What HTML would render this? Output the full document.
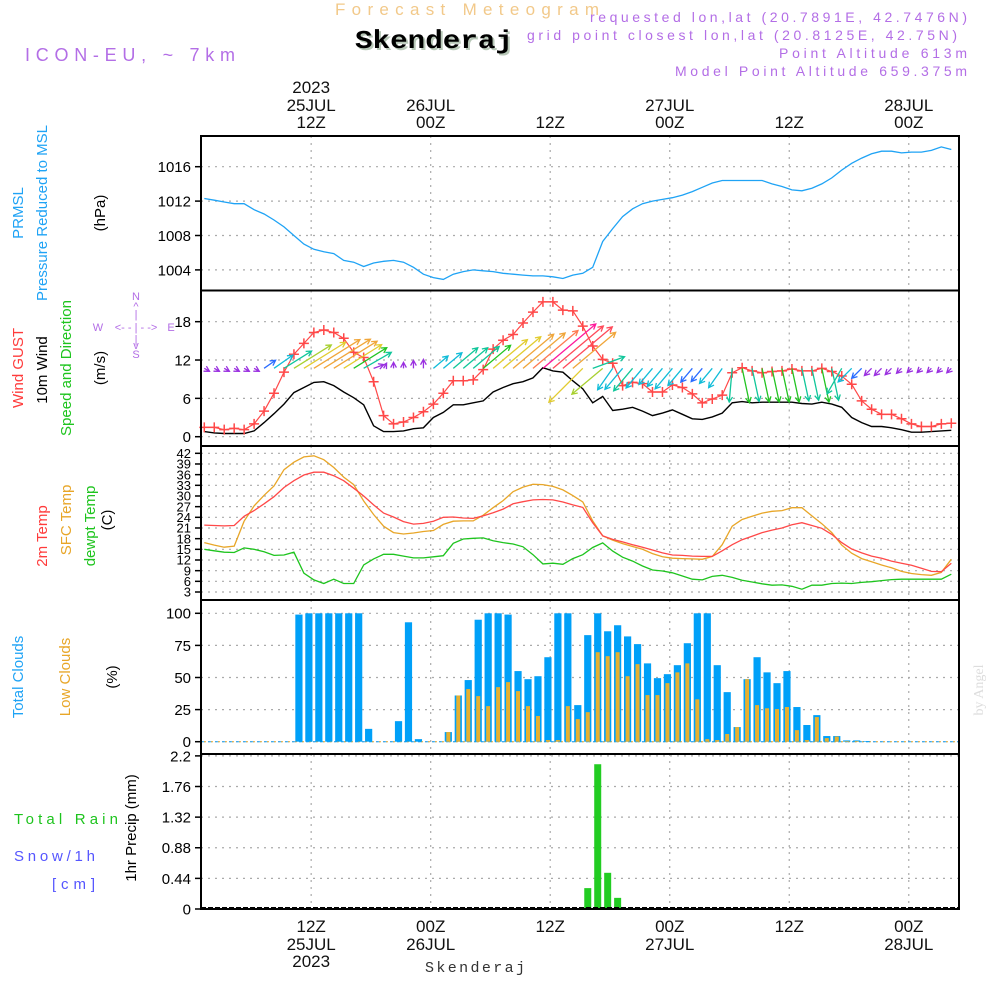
<!DOCTYPE html>
<html><head><meta charset="utf-8"><style>
html,body{margin:0;padding:0;background:#fff;}
svg{display:block;font-family:"Liberation Sans",sans-serif;}
</style></head><body>
<svg id="chart" width="1000" height="1000" viewBox="0 0 1000 1000" xmlns="http://www.w3.org/2000/svg">
<g>
<text x="335" y="15" font-size="17" fill="#f2c98a" textLength="264" lengthAdjust="spacing">Forecast Meteogram</text>
<text x="357" y="50" font-size="26" font-weight="bold" font-family="Liberation Mono, monospace" fill="#b8c8b8" textLength="158" lengthAdjust="spacingAndGlyphs">Skenderaj</text>
<text x="355" y="48" font-size="26" font-weight="bold" font-family="Liberation Mono, monospace" fill="#000" textLength="158" lengthAdjust="spacingAndGlyphs">Skenderaj</text>
<text x="25" y="61" font-size="18" fill="#b36ee6" textLength="210" lengthAdjust="spacing">ICON-EU, ~ 7km</text>
<text x="590" y="22" font-size="14" fill="#b36ee6" textLength="377" lengthAdjust="spacing">requested lon,lat (20.7891E, 42.7476N)</text>
<text x="527" y="40" font-size="14" fill="#b36ee6" textLength="430" lengthAdjust="spacing">grid point closest lon,lat (20.8125E, 42.75N)</text>
<text x="779" y="58" font-size="14" fill="#b36ee6" textLength="188" lengthAdjust="spacing">Point Altitude 613m</text>
<text x="675" y="76" font-size="14" fill="#b36ee6" textLength="292" lengthAdjust="spacing">Model Point Altitude 659.375m</text>
</g>
<g font-size="15">
<text transform="translate(23,213) rotate(-90)" text-anchor="middle" fill="#1fa3f5">PRMSL</text>
<text transform="translate(47,213) rotate(-90)" text-anchor="middle" fill="#1fa3f5">Pressure Reduced to MSL</text>
<text transform="translate(105,213) rotate(-90)" text-anchor="middle" fill="#000">(hPa)</text>
<text transform="translate(23,368) rotate(-90)" text-anchor="middle" fill="#ff3b3b">Wind GUST</text>
<text transform="translate(47,370) rotate(-90)" text-anchor="middle" fill="#000">10m Wind</text>
<text transform="translate(71,368) rotate(-90)" text-anchor="middle" fill="#1ec41e">Speed and Direction</text>
<text transform="translate(105,368) rotate(-90)" text-anchor="middle" fill="#000">(m/s)</text>
<g fill="#b36ee6" font-size="11" text-anchor="middle">
<text x="136" y="300">N</text><text x="136" y="310">^</text><text x="136" y="318">|</text>
<text x="98" y="331">W</text><text x="136" y="331">&lt;- - | - -&gt;</text><text x="171" y="331">E</text>
<text x="136" y="343">|</text><text x="136" y="349">v</text><text x="136" y="358">S</text>
</g>
<text transform="translate(47,536) rotate(-90)" text-anchor="middle" fill="#ff3b3b">2m Temp</text>
<text transform="translate(71,520) rotate(-90)" text-anchor="middle" fill="#e8a628">SFC Temp</text>
<text transform="translate(95,526) rotate(-90)" text-anchor="middle" fill="#1ec41e">dewpt Temp</text>
<text transform="translate(112,520) rotate(-90)" text-anchor="middle" fill="#000">(C)</text>
<text transform="translate(23,677) rotate(-90)" text-anchor="middle" fill="#1fa3f5">Total Clouds</text>
<text transform="translate(70,677) rotate(-90)" text-anchor="middle" fill="#e8a628">Low Clouds</text>
<text transform="translate(117,677) rotate(-90)" text-anchor="middle" fill="#000">(%)</text>
<text x="14" y="824" fill="#1ec41e" textLength="104" lengthAdjust="spacing">Total   Rain</text>
<text x="14" y="861" fill="#5555ff" textLength="81" lengthAdjust="spacing">Snow/1h</text>
<text x="52" y="889" fill="#5555ff" textLength="43" lengthAdjust="spacing">[cm]</text>
<text transform="translate(136,828) rotate(-90)" text-anchor="middle" fill="#000">1hr Precip (mm)</text>
</g>
<text transform="translate(983,690) rotate(-90)" text-anchor="middle" font-size="14" font-family="Liberation Serif, serif" fill="#dddddd">by Angel</text>
<text x="425" y="972" font-size="15" font-family="Liberation Mono, monospace" fill="#333" textLength="100" lengthAdjust="spacing">Skenderaj</text>
<g id="plot"></g>
</svg>
<script>
// ---- data (hourly, index 0 = ~01Z 25JUL) ----
const startHour = 1.27;
const tickHours = [12, 24, 36, 48, 60, 72];
const tickTime = ["12Z", "00Z", "12Z", "00Z", "12Z", "00Z"];
const tickDate = ["25JUL", "26JUL", "", "27JUL", "", "28JUL"];
const tickYear = ["2023", "", "", "", "", ""];

const pressure = [1012.3,1012.1,1011.9,1011.7,1011.7,1011.0,1010.5,1009.8,1009.0,1008.0,1007.0,1006.4,1006.1,1005.9,1005.1,1004.9,1004.4,1004.8,1005.0,1005.1,1004.9,1004.3,1003.5,1003.1,1002.9,1003.5,1003.8,1004.0,1003.9,1003.8,1003.6,1003.5,1003.4,1003.3,1003.3,1003.2,1003.0,1003.4,1003.6,1004.3,1007.3,1008.8,1010.2,1011.1,1011.7,1012.0,1012.2,1012.4,1012.7,1013.1,1013.6,1014.1,1014.4,1014.4,1014.4,1014.4,1014.4,1014.0,1013.7,1013.3,1013.2,1013.5,1014.0,1014.7,1015.6,1016.4,1017.0,1017.5,1017.8,1017.8,1017.6,1017.7,1017.7,1017.9,1018.3,1018.0];
const pressureTicks = [1004, 1008, 1012, 1016];

const gust = [1.45,1.45,1.1,1.3,1.1,2,4,6.8,10.1,12.9,14.6,16.3,16.7,16.3,15.4,13.2,12.4,8.6,3.3,2,2.3,3,3.9,5.1,6.8,8.75,8.75,8.9,10.5,13.7,15.1,16,17.8,19.5,21.1,21.1,19.8,19.7,17.3,14.2,12.1,11.5,8,8.5,8.3,7,7,8.1,7.7,6.7,5.3,5.9,6.5,10,10.8,10.3,10,10.2,10.3,10.6,10.3,10.3,10.7,10.2,9.5,8.2,5.6,4.3,3.5,3.5,2.8,2,1.6,1.6,2,2.1];
const wind = [0.8,0.6,0.5,0.5,0.5,0.9,2.2,3.6,5.1,6.9,7.7,8.5,8.6,8,7,6.1,5,1.7,0.8,0.8,0.9,1.25,1.4,3,3.8,5,5,5.3,5.6,7,7.7,8.3,8.6,9.2,10.8,10.3,10.1,8.75,7.5,5.3,6.3,4.1,4.3,4.6,4,3.3,3.7,4.2,3.5,2.8,2.7,3.1,3.7,5.3,5.5,5.3,5.4,5.4,5.4,5.4,5.2,5.1,5.4,5.1,4.6,3,2.2,1.6,1.6,1.4,1.1,0.7,0.7,0.8,0.9,1];
const windDir = [330,330,330,330,330,330,35,35,32,32,32,32,32,32,32,32,30,20,60,90,90,90,90,40,40,40,40,40,40,40,40,40,40,40,40,40,40,40,225,20,220,235,230,230,230,230,230,230,230,230,230,230,235,265,282,282,282,282,282,282,282,282,282,282,240,225,225,225,225,225,225,225,225,225,225,225];
const windTicks = [0, 6, 12, 18];

const temp2m = [21.8,21.7,21.6,21.7,24.3,25.9,27.8,29.8,32.4,34.3,35.9,36.7,36.7,35.7,34.3,32.2,30.0,27.5,25.2,24.1,22.8,22.1,22.3,22.9,24,24.1,23.8,23.7,24.4,25.3,26.3,27.8,28.4,28.9,29.0,28.9,28.3,27.5,26.8,22.5,18.8,17.8,17.1,16.3,15.6,14.8,14.0,13.4,13.3,13.1,13.0,13.0,14.6,16.3,17.7,18.7,19.7,20.4,21.0,21.9,22.5,21.7,20.9,19.2,16.9,15.1,14.0,13.1,12.5,11.7,11.1,10.5,9.7,8.8,8.7,11.1];
const tempSfc = [16.9,16.2,15.6,15.9,22.9,27.2,30.2,32.8,37.4,39.5,41,41.3,40.2,38.0,35.3,33.2,28.6,24.8,21.5,19.7,19.3,19.6,20.0,20.3,22.0,22.9,23.0,23.0,24.6,26.7,28.7,31.2,32.5,33.3,33.2,32.7,31.7,30.1,28.3,23.0,18.8,17.6,16.6,15.8,15.0,13.8,12.9,12.5,12.4,12.3,12.2,13.0,16.3,21.5,23.4,24.3,25.2,25.7,25.9,26.7,26.7,24.4,22.2,19.7,16.2,13.9,12.4,11.5,10.6,9.8,8.8,8.2,7.9,7.7,8.5,12.2];
const dewpt = [15.0,14.6,14.2,14.1,15.4,15.0,14.3,13.3,13.4,14.2,8.3,6.4,5.4,6.6,5.4,5.4,10.6,12.3,13.6,13.6,13.1,12.6,12.6,12.9,13.2,16.7,17.9,18.1,18.2,17.4,16.9,16.5,15.7,13.5,10.9,11.1,10.8,12.4,13.5,15.5,16.8,14.5,12.8,11.7,10.3,9.2,8.9,8.4,7.5,6.6,6.4,7.4,7.7,7.1,6.3,5.8,5.3,4.9,5.0,4.6,3.8,4.9,4.9,5.4,5.5,5.4,5.7,5.9,6.2,6.5,6.6,6.6,6.6,6.6,6.6,8];
const tempTicks = [3,6,9,12,15,18,21,24,27,30,33,36,39,42];

const totalClouds = [0,0,0,0,0,0,0,0,0,99,100,100,100,100,100,100,10,0,0,16,93,2,0,0,7.5,36,48,95,100,100,99,55,48.7,51,65.8,100,100,28.5,83,100,86,90.7,82,76,61,49.5,52.6,59.6,76.7,100,100,59.6,38.6,11.4,48.7,65.8,54,45.6,55,27,13,20.7,4.4,4.4,1,1,0.5,0,0,0,0,0,0,0,0];
const lowClouds = [0,0,0,0,0,0,0,0,0,0,0,0,0,0,0,0,0,0,0,0,0,0,0,0,7.5,36,41,35.5,27.7,42.5,46.4,39.4,27.7,20,1.3,1.3,27.7,17.6,23,69.7,66.6,69.7,51,60.4,36.3,36.3,45.6,54,61,33,2,1.3,6,11.4,48.7,28.5,26,25.4,27,9,1.3,19.2,2.8,4,0.5,0.5,0,0,0,0,0,0,0,0,0];
const cloudTicks = [0, 25, 50, 75, 100];

const precip = [0,0,0,0,0,0,0,0,0,0,0,0,0,0,0,0,0,0,0,0,0,0,0,0,0,0,0,0,0,0,0,0,0,0,0,0,0,0,0.3,2.08,0.52,0.16,0,0,0,0,0,0,0,0,0,0,0,0,0,0,0,0,0,0,0,0,0,0,0,0,0,0,0,0,0,0,0,0,0];
const precipTicks = [0, 0.44, 0.88, 1.32, 1.76, 2.2];
const precipTickLabels = ["0", "0.44", "0.88", "1.32", "1.76", "2.2"];

// ---- scales ----
const X0 = 201, X1 = 959;
function xTime(h){ return 204.3 + (h - startHour) * 9.96; }
function xPt(i){ return xTime(startHour + i); }
function xBar(i){ return xTime(startHour + i + 0.5); }
function yP(v){ return 166.7 + (1016 - v) * 8.6; }
function yW(v){ return 436.7 - v * 6.39; }
function yT(v){ return 592 - (v - 3) * 3.556; }
function yC(v){ return 741.7 - v * 1.284; }
function yR(v){ return 909 - v * 69.6; }

const NS = "http://www.w3.org/2000/svg";
const plot = document.getElementById("plot");
function mk(tag, attrs, parent){
  const e = document.createElementNS(NS, tag);
  for (const k in attrs) e.setAttribute(k, attrs[k]);
  (parent || plot).appendChild(e);
  return e;
}
function grp(name){
  const g = mk("g", {});
  
  
  return g;
}

const panels = [
  {name:"pressure-panel", top:136, bot:290.5},
  {name:"wind-panel", top:290.5, bot:446},
  {name:"temp-panel", top:446, bot:600},
  {name:"cloud-panel", top:600, bot:754},
  {name:"precip-panel", top:754, bot:909}
];

// grids
const gGrid = grp("grid-lines");
panels.forEach(p => {
  tickHours.forEach(h => {
    const l = mk("line", {x1:xTime(h), x2:xTime(h), y1:p.top, y2:p.bot, stroke:"#aaaaaa", "stroke-width":1.2, "stroke-dasharray":"2 5"}, gGrid);
    
    
  });
});
function hGrid(vals, fy){
  vals.forEach(v => {
    const l = mk("line", {x1:X0, x2:X1, y1:fy(v), y2:fy(v), stroke:"#aaaaaa", "stroke-width":1.2, "stroke-dasharray":"2 5"}, gGrid);
    
    
  });
}
hGrid(pressureTicks, yP); hGrid(windTicks, yW); hGrid(tempTicks, yT); hGrid(cloudTicks, yC); hGrid(precipTicks, yR);

// y tick labels
function yTicks(vals, labels, fy, fs, name){
  const g = grp(name);
  vals.forEach((v, i) => {
    mk("line", {x1:195, x2:X0, y1:fy(v), y2:fy(v), stroke:"#000", "stroke-width":1.5}, g);
    const t = mk("text", {x:191, y:fy(v) + fs*0.36, "font-size":fs, "text-anchor":"end", fill:"#000"}, g);
    t.textContent = labels[i];
    
    
  });
}
yTicks(pressureTicks, pressureTicks.map(String), yP, 15, "pressure-y-axis");
yTicks(windTicks, windTicks.map(String), yW, 15, "wind-y-axis");
yTicks(tempTicks, tempTicks.map(String), yT, 13, "temp-y-axis");
yTicks(cloudTicks, cloudTicks.map(String), yC, 15, "cloud-y-axis");
yTicks(precipTicks, precipTickLabels, yR, 15, "precip-y-axis");

// time labels
const gTime = grp("time-axis-labels");
tickHours.forEach((h, i) => {
  const x = xTime(h);
  const rows = [[tickYear[i], 93], [tickDate[i], 111], [tickTime[i], 128]];
  rows.forEach(r => { if (r[0]) { const t = mk("text", {x:x, y:r[1], "font-size":17, "text-anchor":"middle", fill:"#111"}, gTime); t.textContent = r[0];
      } });
  const rows2 = [[tickTime[i], 932], [tickDate[i], 950], [tickYear[i], 967]];
  rows2.forEach(r => { if (r[0]) { const t = mk("text", {x:x, y:r[1], "font-size":17, "text-anchor":"middle", fill:"#111"}, gTime); t.textContent = r[0];
      } });
});

// pressure line
function line(vals, fy, color, name, w){
  const d = vals.map((v, i) => (i ? "L" : "M") + xPt(i).toFixed(1) + " " + fy(v).toFixed(1)).join(" ");
  const p = mk("path", {d:d, fill:"none", stroke:color, "stroke-width":w || 1.3});
  
  
  return p;
}
line(pressure, yP, "#1fa3f5", "pressure-line");

// wind
line(wind, yW, "#000", "wind-10m-line", 1.4);
line(gust, yW, "#ff4848", "wind-gust-line", 1.2);
const gGust = grp("gust-markers");
gust.forEach((v, i) => {
  const x = xPt(i), y = yW(v);
  const m = mk("path", {d:`M${x-5} ${y}H${x+5}M${x} ${y-5}V${y+5}`, stroke:"#ff4848", "stroke-width":1.5}, gGust);
  
  
});
function windColor(s){
  if (s < 2) return "#9a30e0";
  if (s < 3) return "#2a6cff";
  if (s < 4.5) return "#10bcd8";
  if (s < 5.4) return "#10c69a";
  if (s < 6.3) return "#22c422";
  if (s < 7) return "#a8d030";
  if (s < 7.8) return "#e2cc30";
  if (s < 9) return "#f0a63a";
  if (s < 10) return "#ff7a50";
  if (s < 10.5) return "#ff4a5a";
  return "#ff1a9a";
}
const gArrows = grp("wind-arrows");
wind.forEach((s, i) => {
  const a = windDir[i] * Math.PI / 180;
  const L = Math.max(s * 6.39, 6);
  const x0 = xPt(i), y0 = yW(10.7);
  const x1 = x0 + Math.cos(a) * L, y1 = y0 - Math.sin(a) * L;
  const h = 6, spread = 0.5;
  const b = Math.atan2(y1 - y0, x1 - x0);
  const hx1 = x1 - h * Math.cos(b - spread), hy1 = y1 - h * Math.sin(b - spread);
  const hx2 = x1 - h * Math.cos(b + spread), hy2 = y1 - h * Math.sin(b + spread);
  const c = windColor(s);
  const p = mk("path", {d:`M${x0} ${y0}L${x1} ${y1}M${hx1} ${hy1}L${x1} ${y1}L${hx2} ${hy2}`, stroke:c, "stroke-width":1.3, fill:"none"}, gArrows);
  
  
});

// temps
line(tempSfc, yT, "#e8a628", "sfc-temp-line");
line(temp2m, yT, "#ff4848", "temp-2m-line");
line(dewpt, yT, "#1ec41e", "dewpt-line");

// clouds
const gCloud = grp("cloud-bars");
mk("line", {x1:X0, x2:X1, y1:yC(0), y2:yC(0), stroke:"#1fa3f5", "stroke-width":1, "stroke-dasharray":"4 3"}, gCloud);
mk("line", {x1:X0+3, x2:X1, y1:yC(0), y2:yC(0), stroke:"#e8a628", "stroke-width":1, "stroke-dasharray":"2 5"}, gCloud);
totalClouds.forEach((v, i) => {
  if (v <= 0) return;
  const x = xBar(i);
  const r = mk("rect", {x:x-3.6, y:yC(v), width:7.2, height:yC(0)-yC(v), fill:"#00a0f8"}, gCloud);
  
  
});
lowClouds.forEach((v, i) => {
  if (v <= 0) return;
  const x = xBar(i);
  const r = mk("rect", {x:x-2, y:yC(v), width:4, height:yC(0)-yC(v), fill:"#e6b030"}, gCloud);
  
  
});

// precip
const gRain = grp("precip-bars");
precip.forEach((v, i) => {
  if (v <= 0) return;
  const x = xBar(i);
  const r = mk("rect", {x:x-3.5, y:yR(v), width:7, height:yR(0)-yR(v), fill:"#22cc22"}, gRain);
  
  
});

// frames
const gFrame = grp("panel-frames");
panels.forEach(p => {
  const r = mk("rect", {x:X0, y:p.top, width:X1-X0, height:p.bot-p.top, fill:"none", stroke:"#000", "stroke-width":2}, gFrame);
  
  
});
mk("line", {x1:X0, x2:X1, y1:908, y2:908, stroke:"#000", "stroke-width":2, "stroke-dasharray":"5 2"}, gFrame);
</script>
</body></html>
